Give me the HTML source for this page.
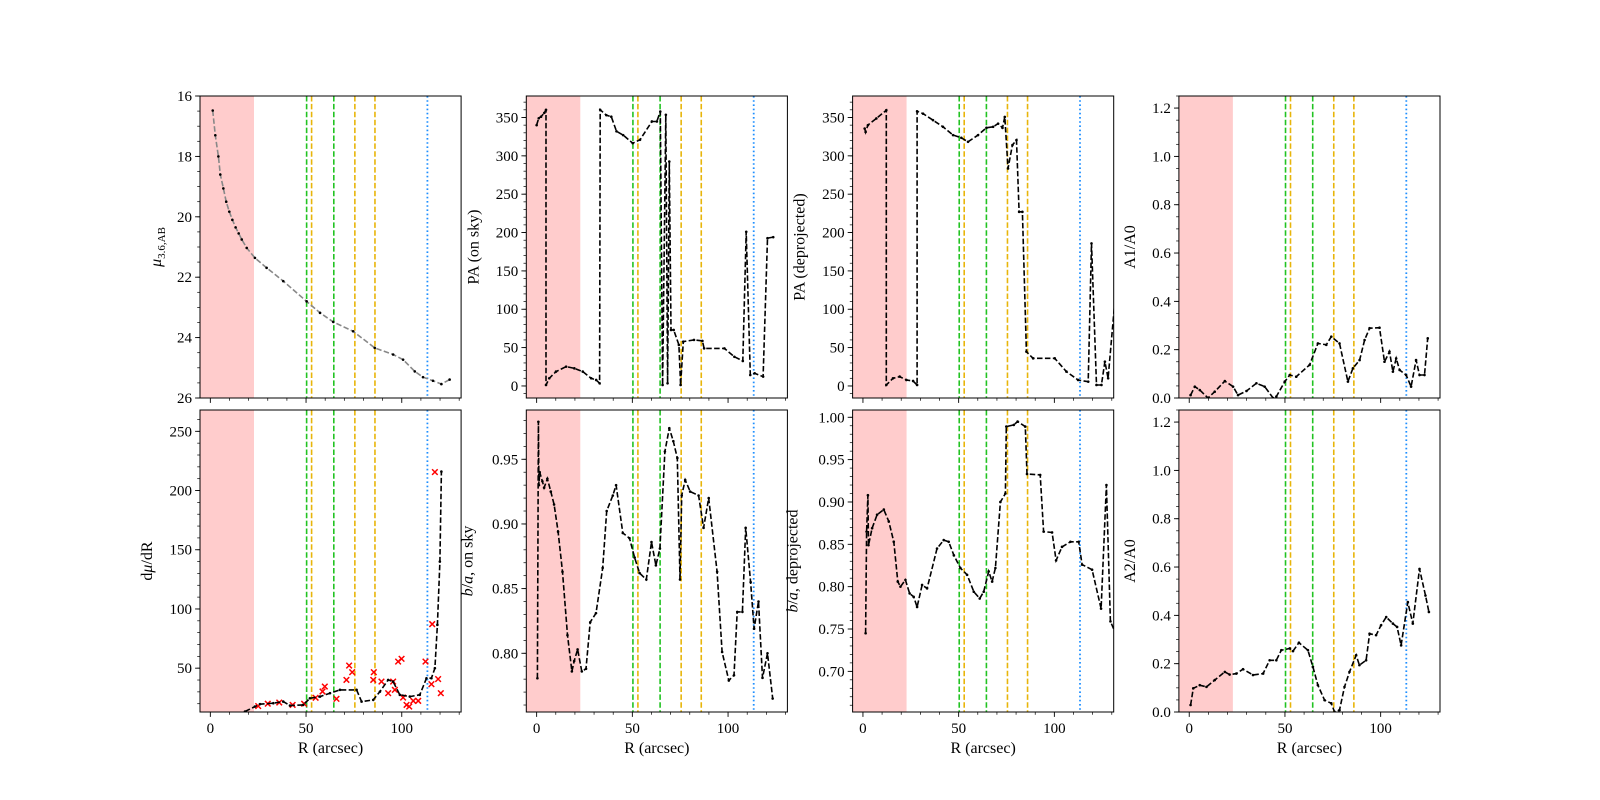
<!DOCTYPE html>
<html>
<head>
<meta charset="utf-8">
<style>
html,body{margin:0;padding:0;background:#fff;}
svg{display:block;}
text{font-family:"Liberation Serif","DejaVu Serif",serif;fill:#000;}
</style>
</head>
<body>
<svg id="fig" width="1600" height="800" viewBox="0 0 1600 800" xmlns="http://www.w3.org/2000/svg">
<rect x="0" y="0" width="1600" height="800" fill="#fff"/>
</svg>
<script>
// ---- data ----
const muR = [1.25,2.6,4.2,5.2,6.8,8.3,9.9,11.5,13.2,14.8,16.4,19,23.3,29.4,38.1,50.3,57.3,64.2,74.6,85.9,95.5,100.7,106.8,111.1,116.3,120.7,125];
const muV = [16.48,17.3,18.0,18.6,19.06,19.5,19.83,20.1,20.35,20.55,20.75,21.03,21.36,21.69,22.13,22.8,23.18,23.48,23.79,24.34,24.56,24.73,25.12,25.31,25.43,25.54,25.39];

const dmuR = [18.1,23.3,25.9,32.9,38.1,41.6,48.5,52,57.3,62.5,67.7,76.4,79,85.1,88.6,92.9,95.5,99,104.2,109.4,112.9,115.5,117.3,118.6,119.9,120.7];
const dmuV = [13.4,17.6,19.6,20.4,21.8,18.4,19,24.6,26,28.9,31.7,31.7,21.8,23.2,30.2,40.1,38.7,27.5,26,27.5,41.5,41.5,50,86.6,140,216];
const dmuRawR = [25,30,36,43,49,55,59.8,58.6,65.9,71.1,72.5,74.1,85.1,85.4,89.4,92.9,98.1,99.9,95.5,96.4,100.7,102.5,103.9,106,108.6,112.4,115.5,115.9,117.3,119,120.4];
const dmuRawV = [18,20,21,19,20,25,34.5,30.3,24.1,40.1,52.2,46.6,40.1,46.6,38.7,28.9,55.6,57.9,38.7,31.7,25.2,19,17.6,22.4,22.4,55.6,36.5,87.2,215.6,40.8,28.9];

const paSkyR = [0,1.1,2.3,4.0,4.9,4.9,6.6,10.1,15.4,19.7,24.1,28.5,31.1,32.9,33.2,36.4,39,41.7,45.2,50.2,54,60.2,62.8,64.6,65.8,67.5,68.4,69.3,70.2,71.6,74.3,75.2,76.6,82.2,86.6,87.5,98.1,103.3,107.7,109.5,111.6,113.9,118.3,120.6,123.6];
const paSkyV = [340,349,351,356,360,1.3,10,18.7,25.2,23,18.7,10,7.8,3.5,360,353,351,332,327,316.5,320.9,344.8,344.8,357.8,1.3,353.5,3.5,292.6,73,73,53.5,1.3,57.8,60,58.7,49,49,38,32.6,201,14.3,16.5,12.2,192.6,194];

const paDepR = [0.9,1.4,2.6,7,12.2,12.2,15.7,19.2,22.7,26.2,28.3,28.3,31.4,36.6,41.8,47.1,51.4,54.9,60.1,64.5,68,70.6,72.9,74.1,75.8,78.1,80.2,81.6,83.3,85.4,88.9,100.2,106.3,112.4,117.7,119.4,122,124.6,126.4,128.1,133];
const paDepV = [335.6,331,340,348.7,359.5,1.3,10,12.2,7.8,6.5,1.3,358,355,346.5,337.8,327,323.5,318.3,327,336.5,337.8,342,336.5,350.8,283.5,314,320.5,227,227,44.7,36,36,18.7,7.8,5.6,185.8,1.3,1.3,31.7,10,150];

const a1R = [0.7,2.9,5.5,9.8,13.3,18.6,22.9,25.5,29.9,35.1,39.4,43.8,45.5,49.9,52.5,55.9,62.9,67.2,71.6,74.2,78.5,82.9,85.5,89,91.6,94.2,99.4,102,104.6,106.4,108.1,109.9,113.3,115.9,118.5,120.3,122.9,124.6];
const a1V = [0.012,0.047,0.033,0.0,0.026,0.07,0.047,0.012,0.029,0.061,0.047,0.0,0.006,0.068,0.095,0.088,0.137,0.226,0.22,0.254,0.226,0.068,0.123,0.157,0.24,0.289,0.291,0.15,0.192,0.109,0.164,0.116,0.095,0.047,0.157,0.095,0.095,0.247];

const baSkyR = [0.4,0.9,1.2,1.6,3,3.9,5.6,7.4,9.1,11.2,13.5,16.1,18.4,19.6,21.4,23.6,25.8,28,31,34.5,36.6,39.8,41.5,45,48.5,51.2,53.8,57.3,60,62.3,64.4,67,69.3,71.4,73.5,74.9,75.8,77.6,80.2,84.6,87.2,89.9,94.3,96.9,100.4,103.1,104.8,107.5,109.2,111.8,113.6,115.9,118,120.6,123.3];
const baSkyV = [0.7807,0.979,0.930,0.940,0.933,0.928,0.935,0.925,0.915,0.894,0.863,0.814,0.786,0.794,0.803,0.786,0.788,0.824,0.831,0.866,0.910,0.922,0.930,0.893,0.889,0.874,0.862,0.857,0.886,0.868,0.881,0.956,0.974,0.964,0.951,0.857,0.922,0.934,0.925,0.922,0.897,0.920,0.863,0.801,0.779,0.783,0.832,0.832,0.897,0.855,0.819,0.840,0.781,0.800,0.765];

const baDepR = [1.4,1.9,2.6,2.9,4.8,7.4,10.9,13.5,16.1,18.2,19.6,22.2,24.4,26.5,28.3,30.9,33.5,38.7,42.2,44.8,47.5,50.9,54.4,57.9,61,63.1,65.7,67.5,69.2,71.8,74.4,74.9,78.8,80.8,84.8,85.7,92.6,94.4,98.8,100.9,104,108.4,112.7,114.5,119.7,124.4,127.2,129.3,133];
const baDepV = [0.745,0.865,0.908,0.849,0.869,0.885,0.891,0.877,0.853,0.806,0.800,0.808,0.792,0.788,0.776,0.802,0.798,0.845,0.855,0.853,0.837,0.822,0.814,0.794,0.786,0.794,0.818,0.806,0.822,0.900,0.910,0.989,0.991,0.995,0.989,0.933,0.932,0.865,0.864,0.831,0.847,0.853,0.853,0.826,0.820,0.774,0.920,0.759,0.740];

const a2R = [0.7,2.1,5.5,9,13.3,18.6,21.1,24.6,28.1,33.3,38.6,42,45.5,48.1,52.5,54.2,57.3,62,64.6,67.2,70.7,74.2,75.9,78.5,81.1,83.7,87.2,88.9,92.4,94.2,97.6,100.2,102.9,106.4,108.6,110.7,114.2,116.8,120.3,123.4,125.2];
const a2V = [0.029,0.098,0.111,0.104,0.132,0.166,0.155,0.159,0.177,0.153,0.159,0.214,0.214,0.256,0.263,0.252,0.287,0.256,0.187,0.111,0.049,0.036,0.001,0.008,0.104,0.166,0.235,0.194,0.214,0.324,0.318,0.359,0.393,0.366,0.352,0.276,0.455,0.366,0.592,0.482,0.414];

const greenLines = [50.3, 64.5];
const yellowLines = [52.9, 75.5, 86];
const blueLines = [113.4];
const spanEnd = [22.8];
const xTicks = [0, 50, 100];

// ---- layout ----
const XMIN = -5.4, XMAX = 131;
const colLeft = [200, 526.3, 852.6, 1178.9];
const rowTop = [96, 410];
const PW = 261.1, PH = 302;
const NS = 'http://www.w3.org/2000/svg';
const svg = document.getElementById('fig');

function mk(tag, attrs, parent) {
  const el = document.createElementNS(NS, tag);
  for (const k in attrs) el.setAttribute(k, attrs[k]);
  (parent || svg).appendChild(el);
  return el;
}

const panels = [
  {id:'mu-profile', col:0,row:0,ymin:16,ymax:26,invert:true,ticks:[16,18,20,22,24,26],minor:0.5,dec:0,label:'mu',loff:39},
  {id:'dmu-dr', col:0,row:1,ymin:13,ymax:268,ticks:[50,100,150,200,250],minor:10,dec:0,label:'dmu',loff:48},
  {id:'pa-sky', col:1,row:0,ymin:-15.7,ymax:378,ticks:[0,50,100,150,200,250,300,350],minor:10,dec:0,label:'PA (on sky)',loff:48},
  {id:'ba-sky', col:1,row:1,ymin:0.7546,ymax:0.9881,ticks:[0.80,0.85,0.90,0.95],minor:0.01,dec:2,label:'basky',loff:54},
  {id:'pa-deproj', col:2,row:0,ymin:-15.7,ymax:378,ticks:[0,50,100,150,200,250,300,350],minor:10,dec:0,label:'PA (deprojected)',loff:48},
  {id:'ba-deproj', col:2,row:1,ymin:0.652,ymax:1.0086,ticks:[0.70,0.75,0.80,0.85,0.90,0.95,1.00],minor:0.01,dec:2,label:'badep',loff:55},
  {id:'a1-a0', col:3,row:0,ymin:0,ymax:1.25,ticks:[0,0.2,0.4,0.6,0.8,1.0,1.2],minor:0.05,dec:1,label:'A1/A0',loff:44},
  {id:'a2-a0', col:3,row:1,ymin:0,ymax:1.25,ticks:[0,0.2,0.4,0.6,0.8,1.0,1.2],minor:0.05,dec:1,label:'A2/A0',loff:44}
];
panels.forEach(p => { p.left = colLeft[p.col]; p.top = rowTop[p.row]; p.w = PW; p.h = PH; });

function sx(p, v) { return p.left + (v - XMIN) / (XMAX - XMIN) * p.w; }
function sy(p, v) {
  const f = (v - p.ymin) / (p.ymax - p.ymin);
  return p.invert ? p.top + f * p.h : p.top + p.h - f * p.h;
}

function drawLine(p, g, xs, ys, color, dash, dots, name) {
  let d = '';
  for (let i = 0; i < xs.length; i++) d += (i ? 'L' : 'M') + sx(p, xs[i]).toFixed(1) + ',' + sy(p, ys[i]).toFixed(1);
  const path = mk('path', {d: d, fill: 'none', stroke: color, 'stroke-width': 1.6, 'stroke-dasharray': dash}, g);
  
  
  if (dots) {
    for (let i = 0; i < xs.length; i++) {
      const c = mk('circle', {cx: sx(p, xs[i]), cy: sy(p, ys[i]), r: 1.3, fill: '#000'}, g);
      
      
    }
  }
}

panels.forEach((p, pi) => {
  const g = mk('g', {});
  
  
  const cp = mk('clipPath', {id: 'clip' + pi}, g);
  mk('rect', {x: p.left, y: p.top, width: p.w, height: p.h}, cp);
  const inner = mk('g', {'clip-path': 'url(#clip' + pi + ')'}, g);

  // red span
  const span = mk('rect', {x: p.left, y: p.top, width: sx(p, spanEnd[0]) - p.left, height: p.h, fill: '#ffcccc'}, inner);
  
  

  // vertical markers
  greenLines.forEach(v => {
    const l = mk('line', {x1: sx(p, v), x2: sx(p, v), y1: p.top, y2: p.top + p.h, stroke: '#22c322', 'stroke-width': 1.6, 'stroke-dasharray': '5.5,2.4'}, inner);
    
    
  });
  yellowLines.forEach(v => {
    const l = mk('line', {x1: sx(p, v), x2: sx(p, v), y1: p.top, y2: p.top + p.h, stroke: '#e8b50a', 'stroke-width': 1.6, 'stroke-dasharray': '5.5,2.4'}, inner);
    
    
  });
  blueLines.forEach(v => {
    const l = mk('line', {x1: sx(p, v), x2: sx(p, v), y1: p.top, y2: p.top + p.h, stroke: '#1e8fff', 'stroke-width': 1.8, 'stroke-dasharray': '1.6,2.6'}, inner);
    
    
  });

  // series
  if (p.id === 'mu-profile') drawLine(p, inner, muR, muV, '#888', '5.5,2.4', true, 'mu-series');
  if (p.id === 'dmu-dr') {
    dmuRawR.forEach((x, i) => {
      const cx = sx(p, x), cy = sy(p, dmuRawV[i]);
      const m = mk('path', {d: `M${cx-2.8},${cy-2.8}L${cx+2.8},${cy+2.8}M${cx-2.8},${cy+2.8}L${cx+2.8},${cy-2.8}`, stroke: '#ff0000', 'stroke-width': 1.5}, inner);
      
      
    });
    drawLine(p, inner, dmuR, dmuV, '#000', '5.5,2.4', true, 'dmu-series');
  }
  if (p.id === 'pa-sky') drawLine(p, inner, paSkyR, paSkyV, '#000', '5.5,2.4', true, 'pa-sky-series');
  if (p.id === 'pa-deproj') drawLine(p, inner, paDepR, paDepV, '#000', '5.5,2.4', true, 'pa-deproj-series');
  if (p.id === 'a1-a0') drawLine(p, inner, a1R, a1V, '#000', '5.5,2.4', true, 'a1-series');
  if (p.id === 'ba-sky') drawLine(p, inner, baSkyR, baSkyV, '#000', '5.5,2.4', true, 'ba-sky-series');
  if (p.id === 'ba-deproj') drawLine(p, inner, baDepR, baDepV, '#000', '5.5,2.4', true, 'ba-deproj-series');
  if (p.id === 'a2-a0') drawLine(p, inner, a2R, a2V, '#000', '5.5,2.4', true, 'a2-series');

  // frame
  const fr = mk('rect', {x: p.left, y: p.top, width: p.w, height: p.h, fill: 'none', stroke: '#000', 'stroke-width': 1}, g);
  
  

  // x ticks
  const yb = p.top + p.h;
  for (let v = 0; v <= 130; v += 10) {
    const major = xTicks.indexOf(v) >= 0;
    const t = mk('line', {x1: sx(p, v), x2: sx(p, v), y1: yb, y2: yb + (major ? 4.9 : 2.8), stroke: '#000', 'stroke-width': major ? 0.9 : 0.7}, g);
    
    
  }
  if (p.row === 1) {
    xTicks.forEach(v => {
      const tl = mk('text', {x: sx(p, v), y: yb + 21, 'font-size': 15, 'text-anchor': 'middle'}, g);
      
      
      tl.textContent = String(v);
    });
    const xl = mk('text', {x: p.left + p.w / 2, y: yb + 41, 'font-size': 16, 'text-anchor': 'middle'}, g);
    
    
    xl.textContent = 'R (arcsec)';
  }

  // y ticks
  const lo = Math.min(p.ymin, p.ymax), hi = Math.max(p.ymin, p.ymax);
  const start = Math.ceil(lo / p.minor - 1e-6);
  for (let k = start; k * p.minor <= hi + 1e-9; k++) {
    const v = k * p.minor;
    const t = mk('line', {x1: p.left, x2: p.left - 2.8, y1: sy(p, v), y2: sy(p, v), stroke: '#000', 'stroke-width': 0.7}, g);
    
    
  }
  p.ticks.forEach(v => {
    const t = mk('line', {x1: p.left, x2: p.left - 4.9, y1: sy(p, v), y2: sy(p, v), stroke: '#000', 'stroke-width': 0.9}, g);
    
    
    const tl = mk('text', {x: p.left - 8, y: sy(p, v) + 5, 'font-size': 15, 'text-anchor': 'end'}, g);
    
    
    tl.textContent = v.toFixed(p.dec);
  });

  // y label
  const lx = p.left - p.loff, ly = p.top + p.h / 2;
  const yl = mk('text', {x: lx, y: ly, 'font-size': 16, 'text-anchor': 'middle', transform: `rotate(-90 ${lx} ${ly})`}, g);
  
  
  if (p.label === 'mu') {
    yl.innerHTML = '<tspan font-style="italic">μ</tspan><tspan font-size="11" dy="4">3.6,AB</tspan>';
  } else if (p.label === 'dmu') {
    yl.innerHTML = 'd<tspan font-style="italic">μ</tspan>/dR';
  } else if (p.label === 'basky') {
    yl.innerHTML = '<tspan font-style="italic">b</tspan>/<tspan font-style="italic">a</tspan>, on sky';
  } else if (p.label === 'badep') {
    yl.innerHTML = '<tspan font-style="italic">b</tspan>/<tspan font-style="italic">a</tspan>, deprojected';
  } else {
    yl.textContent = p.label;
  }
});
</script>
</body>
</html>
